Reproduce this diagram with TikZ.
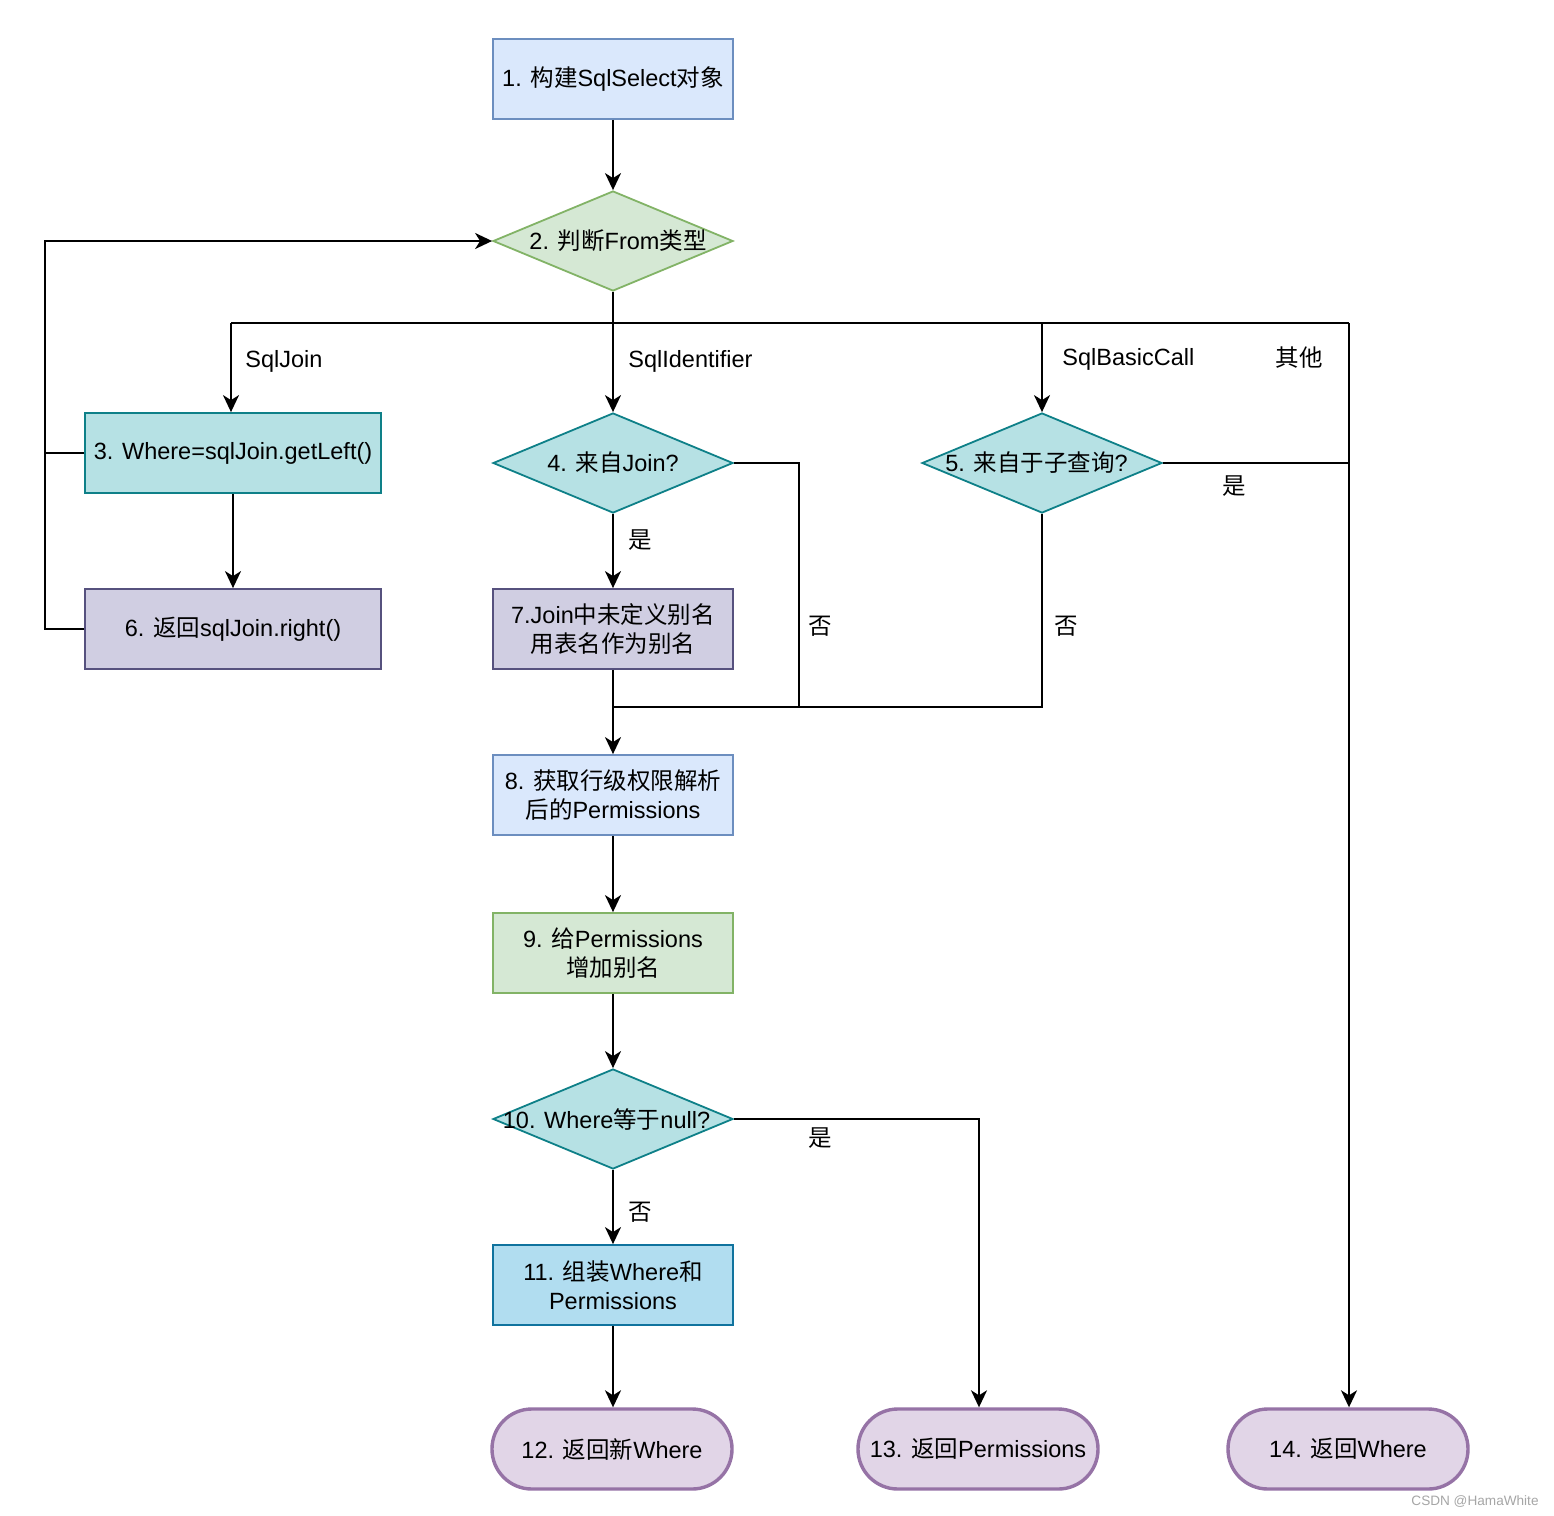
\documentclass[tikz,border=0pt]{standalone}
\usepackage{fontspec}
\setmainfont{Liberation Sans}
\newfontfamily\cjk{Noto Sans CJK SC}
\newcommand\C[1]{{\cjk #1}}
\usetikzlibrary{shapes.geometric,arrows.meta}
\definecolor{bluef}{HTML}{DAE8FC}\definecolor{blued}{HTML}{6C8EBF}
\definecolor{greenf}{HTML}{D5E8D4}\definecolor{greend}{HTML}{82B366}
\definecolor{tealf}{HTML}{B6E1E4}\definecolor{teald}{HTML}{0E8088}
\definecolor{purpf}{HTML}{D0CEE2}\definecolor{purpd}{HTML}{56517E}
\definecolor{skyf}{HTML}{B1DDF0}\definecolor{skyd}{HTML}{10739E}
\definecolor{endf}{HTML}{E1D5E7}\definecolor{endd}{HTML}{9673A6}
\begin{document}
\begin{tikzpicture}[x=0.5pt,y=-0.5pt,
  every node/.style={font=\fontsize{11.75}{14.5}\selectfont},
  box/.style={rectangle,draw,line width=0.9pt,minimum width=120pt,minimum height=40pt,inner sep=0pt,align=center},
  dia/.style={diamond,draw,line width=0.9pt,minimum width=120pt,minimum height=50pt,inner sep=0pt,aspect=2.4},
  term/.style={rectangle,rounded corners=19.9pt,draw=endd,fill=endf,line width=1.7pt,minimum width=120pt,minimum height=40pt,inner sep=0pt},
  conn/.style={line width=1pt},
  arr/.style={conn,-{Stealth[length=8.5pt,width=8pt,inset=2.5pt]}},
  lab/.style={inner sep=0pt}]
\useasboundingbox (0,0) rectangle (1554,1516);
\fill[white] (0,0) rectangle (1554,1516);

% nodes
\node[box,fill=bluef,draw=blued] (n1) at (613,79) {1. \C{构建}SqlSelect\C{对象}};
\node[dia,fill=greenf,draw=greend] (n2) at (613,241) {\makebox[0pt]{\hspace{5pt}2. \C{判断}From\C{类型}}};
\node[box,fill=tealf,draw=teald,minimum width=148pt] (n3) at (233,453) {3. Where=sqlJoin.getLeft()};
\node[box,fill=purpf,draw=purpd,minimum width=148pt] (n6) at (233,629) {6. \C{返回}sqlJoin.right()};
\node[dia,fill=tealf,draw=teald] (n4) at (613,463) {\makebox[0pt]{4. \C{来自}Join?}};
\node[dia,fill=tealf,draw=teald] (n5) at (1042,463) {\makebox[0pt]{\hspace{-5.5pt}5. \C{来自于子查询}?}};
\node[box,fill=purpf,draw=purpd] (n7) at (613,629) {7.Join\C{中未定义别名}\\\C{用表名作为别名}};
\node[box,fill=bluef,draw=blued] (n8) at (613,795) {8. \C{获取行级权限解析}\\\C{后的}Permissions};
\node[box,fill=greenf,draw=greend] (n9) at (613,953) {9. \C{给}Permissions\\\C{增加别名}};
\node[dia,fill=tealf,draw=teald] (n10) at (613,1119) {\makebox[0pt]{\hspace{-6.5pt}10. Where\C{等于}null?}};
\node[box,fill=skyf,draw=skyd] (n11) at (613,1285) {11. \C{组装}Where\C{和}\\Permissions};
\node[term] (n12) at (612,1449) {12. \C{返回新}Where};
\node[term] (n13) at (978,1449) {13. \C{返回}Permissions};
\node[term] (n14) at (1348,1449) {14. \C{返回}Where};

% coordinates
\coordinate (b0) at (613,323);
\coordinate (bj) at (231,323);
\coordinate (bb) at (1042,323);
\coordinate (bo) at (1349,323);
\coordinate (lpa) at (45,629);
\coordinate (lpb) at (45,453);
\coordinate (lpc) at (45,241);
\coordinate (r4) at (799,463);
\coordinate (m4) at (799,707);
\coordinate (m5) at (1042,707);
\coordinate (m0) at (613,707);
\coordinate (r5) at (1349,463);
\coordinate (r10) at (979,1119);

% connectors
\draw[arr] (n1) -- (n2);
\draw[conn] (n2.south) -- (b0);
\draw[conn] (bj) -- (bo);
\draw[arr] (bj) -- (bj |- n3.north);
\draw[arr] (b0) -- (n4.north);
\draw[arr] (bb) -- (n5.north);
\draw[arr] (bo) -- (bo |- n14.north);
\draw[arr] (n3) -- (n6);
\draw[conn] (n6.west) -- (lpa) -- (lpb);
\draw[conn] (n3.west) -- (lpb);
\draw[arr] (lpb) -- (lpc) -- (n2.west);
\draw[arr] (n4) -- (n7);
\draw[conn] (n4.east) -- (r4) -- (m4) -- (m0);
\draw[conn] (n5.south) -- (m5) -- (m4);
\draw[conn] (n5.east) -- (r5);
\draw[conn] (n7.south) -- (m0);
\draw[arr] (m0) -- (n8.north);
\draw[arr] (n8) -- (n9);
\draw[arr] (n9) -- (n10);
\draw[arr] (n10) -- (n11);
\draw[arr] (n10.east) -- (r10) -- (r10 |- n13.north);
\draw[arr] (n11) -- (n11 |- n12.north);

% labels
\node[lab,anchor=west] (lsj) at (245,361) {SqlJoin};
\node[lab,anchor=west] (lsi) at (628,361) {SqlIdentifier};
\node[lab,anchor=west] (lsb) at (1062,359) {SqlBasicCall};
\node[lab] (lqt) at (1299,358) {\C{其他}};
\node[lab] (ly4) at (640,540) {\C{是}};
\node[lab] (ln4) at (820,626) {\C{否}};
\node[lab] (ln5) at (1066,626) {\C{否}};
\node[lab] (ly5) at (1234,486) {\C{是}};
\node[lab] (ly10) at (820,1138) {\C{是}};
\node[lab] (ln10) at (640,1212) {\C{否}};
\node[lab,anchor=east,text=black!35,font=\fontsize{6.8}{8}\selectfont] (wm) at (1539,1501) {CSDN @HamaWhite};
\end{tikzpicture}
\end{document}
